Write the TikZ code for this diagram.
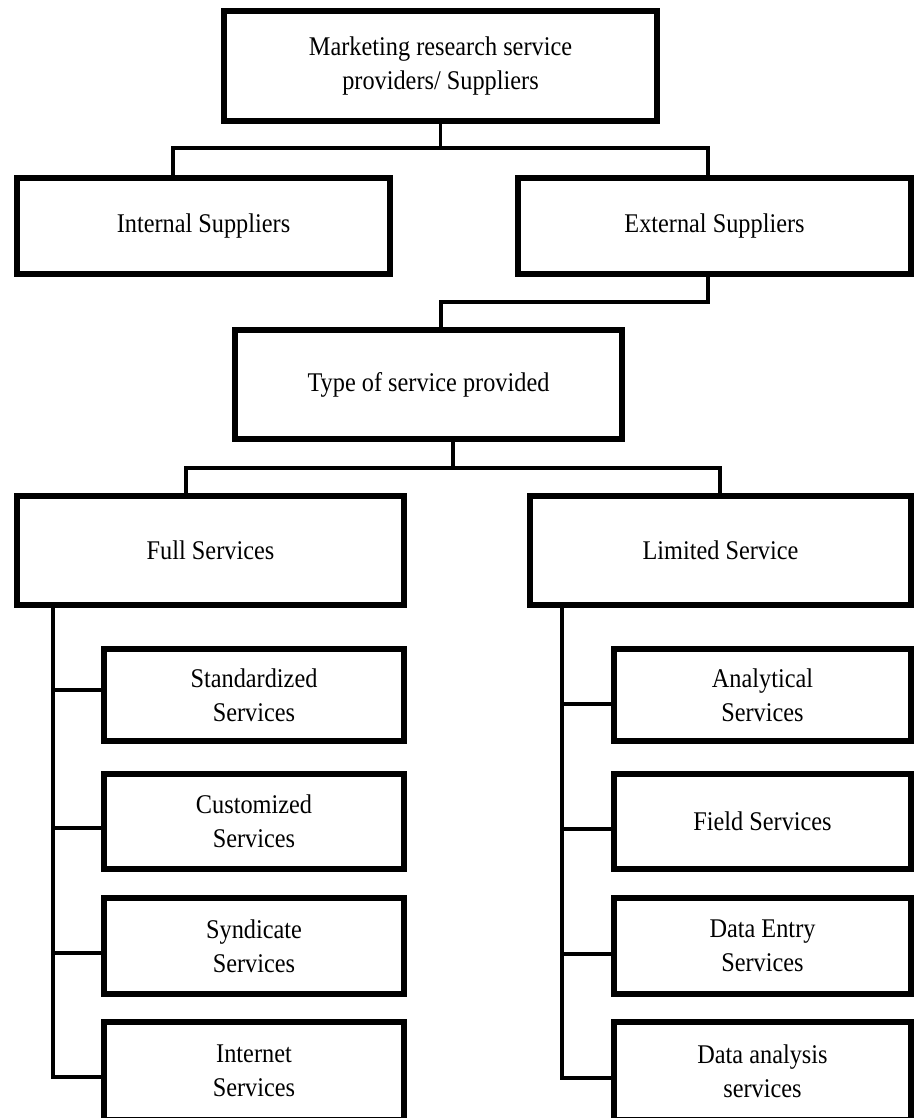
\documentclass[tikz,border=0pt]{standalone}
\usepackage{fontspec}
\setmainfont{Liberation Serif}[FakeStretch=0.9]
\begin{document}
\begin{tikzpicture}[x=1pt,y=-1pt,
  box/.style={draw=black,line width=5.5pt,rectangle,align=center,inner sep=0pt,
    font=\fontsize{27}{34}\selectfont},
  conn/.style={draw=black,line width=3.5pt,line join=miter}]
\useasboundingbox (0,0) rectangle (916,1118);
% nodes
\node[box,minimum width=433,minimum height=110] (top) at (440.5,66) {Marketing research service\\providers/ Suppliers};
\node[box,minimum width=373,minimum height=96] (int) at (203.5,226) {Internal Suppliers};
\node[box,minimum width=393,minimum height=96] (ext) at (714.5,226) {External Suppliers};
\node[box,minimum width=387,minimum height=109] (type) at (428.5,384.5) {Type of service provided};
\node[box,minimum width=387,minimum height=109] (full) at (210.5,550.5) {Full Services};
\node[box,minimum width=381,minimum height=109] (lim) at (720.5,550.5) {Limited Service};
% left column
\node[box,minimum width=300,minimum height=92] (std) at (254,695) {Standardized\\Services};
\node[box,minimum width=300,minimum height=95] (cus) at (254,821.5) {Customized\\Services};
\node[box,minimum width=300,minimum height=96] (syn) at (254,946) {Syndicate\\Services};
\node[box,minimum width=300,minimum height=98] (inet) at (254,1071) {Internet\\Services};
% right column
\node[box,minimum width=297,minimum height=92] (ana) at (762.5,695) {Analytical\\Services};
\node[box,minimum width=297,minimum height=95] (fld) at (762.5,821.5) {Field Services};
\node[box,minimum width=297,minimum height=96] (dent) at (762.5,946) {Data Entry\\Services};
\node[box,minimum width=297,minimum height=98] (dana) at (762.5,1071) {Data analysis\\services};
% junction coordinates
\coordinate (j1) at (440.5,148);
\coordinate (j1l) at (173,148);
\coordinate (j1r) at (708,148);
\coordinate (j2r) at (708,302);
\coordinate (j2l) at (441,302);
\coordinate (j3) at (453,468);
\coordinate (j3l) at (186,468);
\coordinate (j3r) at (720,468);
\coordinate (la) at (53,690);
\coordinate (lb) at (53,828);
\coordinate (lc) at (53,953);
\coordinate (ld) at (53,1077);
\coordinate (ra) at (562,704);
\coordinate (rb) at (562,829);
\coordinate (rc) at (562,954);
\coordinate (rd) at (562,1078);
% connectors
\draw[conn] (top.south) -- (j1);
\draw[conn] (j1l |- int.north) -- (j1l) -- (j1r) -- (j1r |- ext.north);
\draw[conn] (j2r |- ext.south) -- (j2r) -- (j2l) -- (j2l |- type.north);
\draw[conn] (j3 |- type.south) -- (j3);
\draw[conn] (j3l |- full.north) -- (j3l) -- (j3r) -- (j3r |- lim.north);
\draw[conn] (la |- full.south) -- (ld) -- (ld -| inet.west);
\draw[conn] (la) -- (la -| std.west);
\draw[conn] (lb) -- (lb -| cus.west);
\draw[conn] (lc) -- (lc -| syn.west);
\draw[conn] (ra |- lim.south) -- (rd) -- (rd -| dana.west);
\draw[conn] (ra) -- (ra -| ana.west);
\draw[conn] (rb) -- (rb -| fld.west);
\draw[conn] (rc) -- (rc -| dent.west);
\end{tikzpicture}
\end{document}
